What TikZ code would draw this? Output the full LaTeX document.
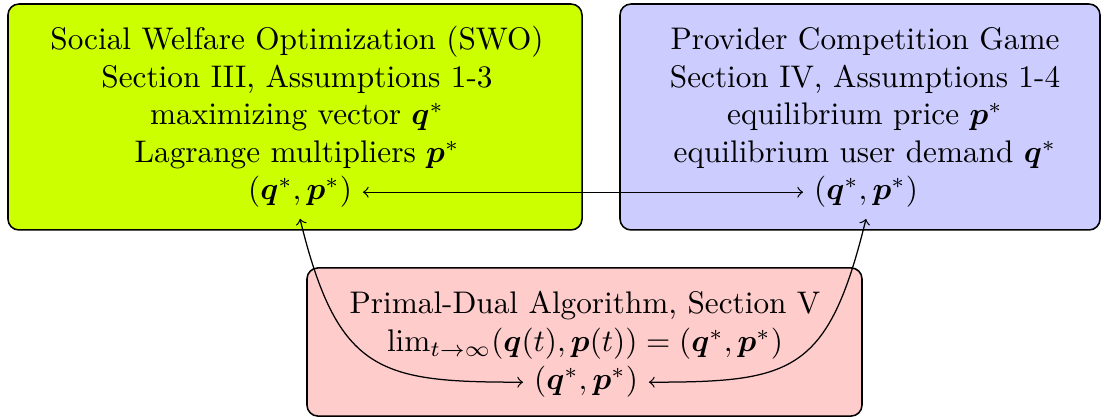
\documentclass[tikz,border=0pt]{standalone}
\usepackage{amsmath}
\usepackage{bm}
\definecolor{swogreen}{RGB}{204,255,0}
\definecolor{pcgblue}{RGB}{204,204,255}
\definecolor{pdapink}{RGB}{255,204,204}
\begin{document}
\begin{tikzpicture}[x=0.32pt,y=-0.32pt,
  box/.style={draw=black, line width=0.5pt, rounded corners=3.5pt, inner sep=0pt},
  txtline/.style={anchor=base, inner sep=3.33pt},
  link/.style={<->, line width=0.4pt}]
\useasboundingbox (0,0) rectangle (1108,418);
% boxes
\node[box, fill=swogreen, minimum width=183.7pt, minimum height=72.3pt] (swo) at (295,117) {};
\node[box, fill=pcgblue, minimum width=153.6pt, minimum height=72.3pt] (pcg) at (860,117) {};
\node[box, fill=pdapink, minimum width=177.6pt, minimum height=47.4pt] (pda) at (584.5,342) {};
% left box text
\node[txtline] (swo1) at (297,50) {Social Welfare Optimization (SWO)};
\node[txtline] (swo2) at (297,88) {Section III, Assumptions 1-3};
\node[txtline] (swo3) at (297,125) {maximizing vector $\bm{q}^*$};
\node[txtline] (swo4) at (297,163) {Lagrange multipliers $\bm{p}^*$};
\node[txtline] (lq) at (300,200) {$(\bm{q}^*,\bm{p}^*)$};
% right box text
\node[txtline] (pcg1) at (865,50) {Provider Competition Game};
\node[txtline] (pcg2) at (865,88) {Section IV, Assumptions 1-4};
\node[txtline] (pcg3) at (865,125) {equilibrium price $\bm{p}^*$};
\node[txtline] (pcg4) at (865,163) {equilibrium user demand $\bm{q}^*$};
\node[txtline] (rq) at (866,200) {$(\bm{q}^*,\bm{p}^*)$};
% bottom box text
\node[txtline] (pda1) at (585,314) {Primal-Dual Algorithm, Section V};
\node[txtline] (pda2) at (585,352) {$\lim_{t\to\infty}(\bm{q}(t),\bm{p}(t))=(\bm{q}^*,\bm{p}^*)$};
\node[txtline] (bq) at (586,390) {$(\bm{q}^*,\bm{p}^*)$};
% connectors
\draw[link] (lq.east) -- (rq.west);
\draw[link] (lq.south) .. controls +(38,155) and +(-143,0) .. (bq.west);
\draw[link] (rq.south) .. controls +(-38,155) and +(143,0) .. (bq.east);
\end{tikzpicture}
\end{document}
